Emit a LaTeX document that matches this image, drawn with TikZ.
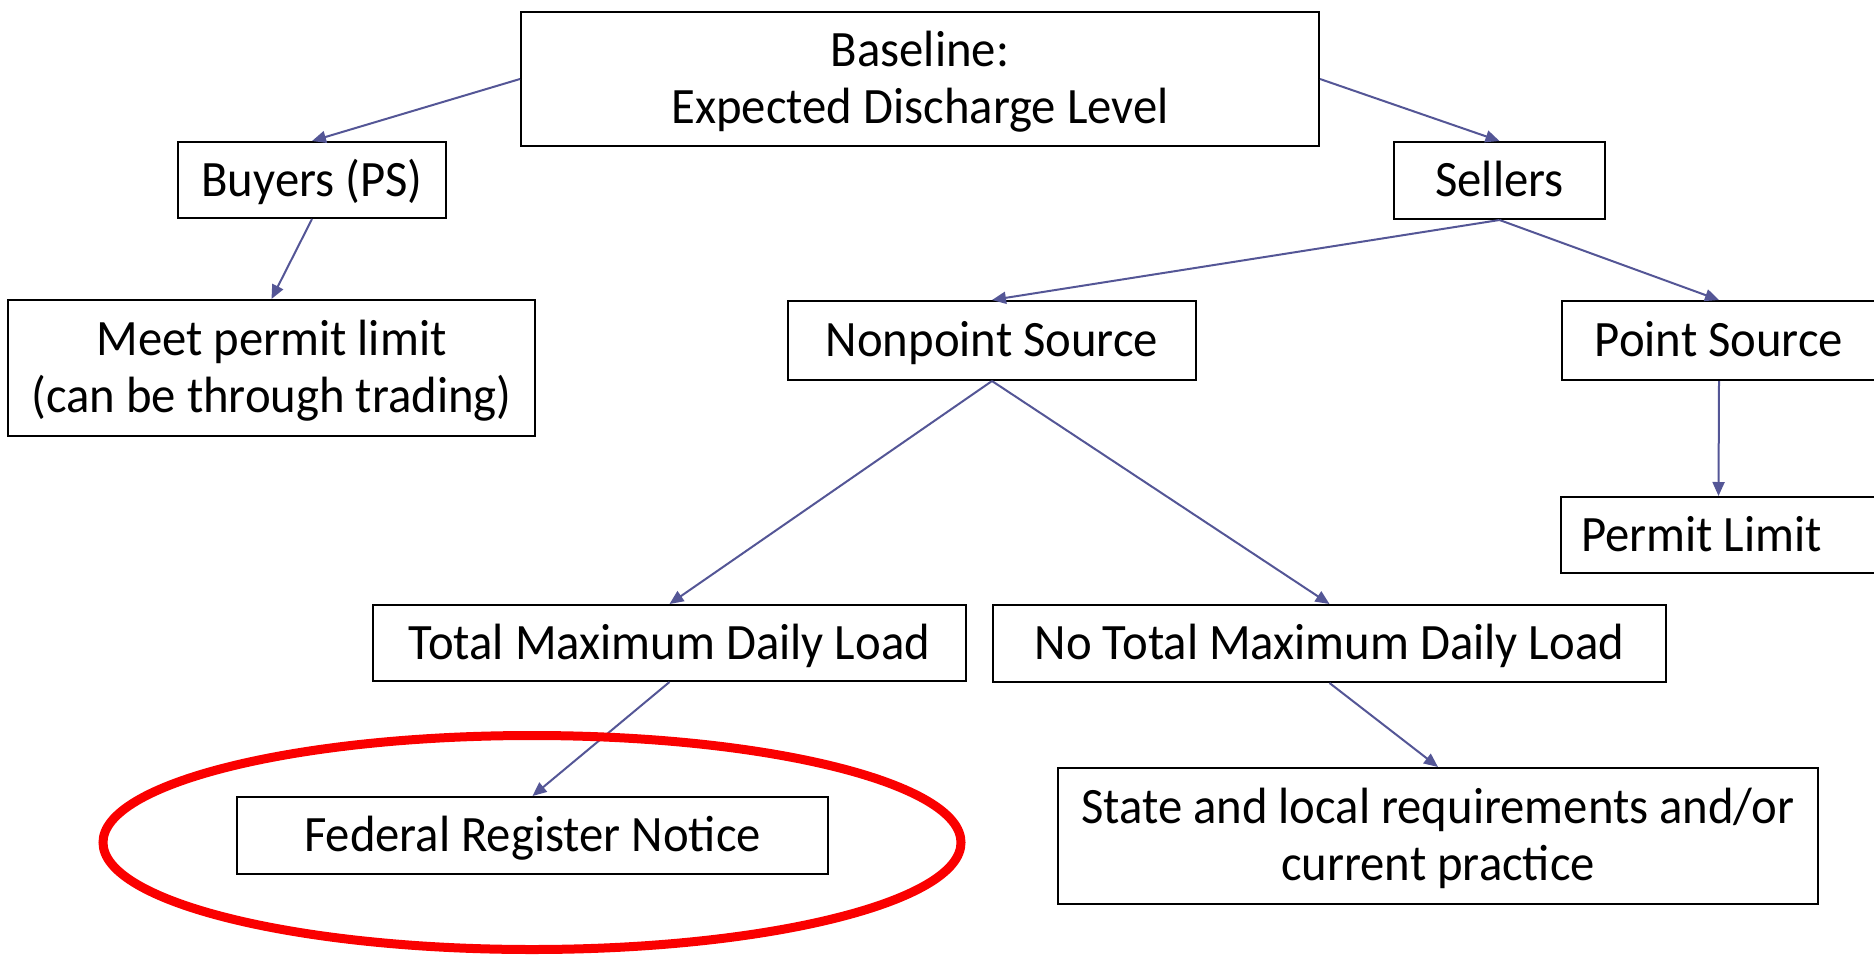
\documentclass[tikz,border=0pt]{standalone}
\usepackage{fontspec}
\setmainfont{Carlito}[FakeStretch=0.955]
\usetikzlibrary{arrows.meta}
\definecolor{arrowc}{RGB}{84,86,150}
\definecolor{ringred}{RGB}{250,0,0}
\begin{document}
\begin{tikzpicture}[x=1pt,y=-1pt,
  box/.style={draw=black,line width=2pt,rectangle,inner sep=0pt,align=center,
    font=\fontsize{51}{57}\selectfont,text height=32.8pt,text depth=0pt},
  twoline/.style={text height=89.8pt,text depth=0pt},
  conn/.style={draw=arrowc,line width=2pt,-{Triangle[length=14pt,width=12pt]}}]
\useasboundingbox (0,0) rectangle (1874,956);
\node[box,twoline,minimum width=798pt,minimum height=134pt] (base) at (920,79) {Baseline:\\Expected Discharge Level};
\node[box,minimum width=268pt,minimum height=76pt] (buy) at (312,180) {Buyers (PS)};
\node[box,twoline,minimum width=527pt,minimum height=136pt] (meet) at (271.5,368) {Meet permit limit\\(can be through trading)};
\node[box,minimum width=211pt,minimum height=77pt] (sell) at (1499.5,180.5) {Sellers};
\node[box,minimum width=408pt,minimum height=79pt] (nps) at (992,340.5) {Nonpoint Source};
\node[box,minimum width=314pt,minimum height=79pt] (ps) at (1719,340.5) {Point Source};
\node[box,minimum width=315pt,minimum height=76pt] (pl) at (1718.5,535) {\makebox[275pt][l]{Permit Limit}};
\node[box,minimum width=593pt,minimum height=76pt] (tmdl) at (669.5,643) {Total Maximum Daily Load};
\node[box,minimum width=673pt,minimum height=77pt] (ntmdl) at (1329.5,643.5) {No Total Maximum Daily Load};
\node[box,minimum width=591pt,minimum height=77pt] (frn) at (532.5,835.5) {Federal Register Notice};
\node[box,twoline,minimum width=760pt,minimum height=136pt] (state) at (1438,836) {State and local requirements and/or\\current practice};
\draw[conn] (base.west) -- (buy.north);
\draw[conn] (base.east) -- (sell.north);
\draw[conn] (buy.south) -- (meet.north);
\draw[conn] (sell.south) -- (nps.north);
\draw[conn] (sell.south) -- (ps.north);
\draw[conn] (ps.south) -- (pl.north);
\draw[conn] (nps.south) -- (tmdl.north);
\draw[conn] (nps.south) -- (ntmdl.north);
\draw[conn] (tmdl.south) -- (frn.north);
\draw[conn] (ntmdl.south) -- (state.north);
\draw[ringred,line width=9pt] (532,842.5) ellipse [x radius=429, y radius=107];
\end{tikzpicture}
\end{document}
